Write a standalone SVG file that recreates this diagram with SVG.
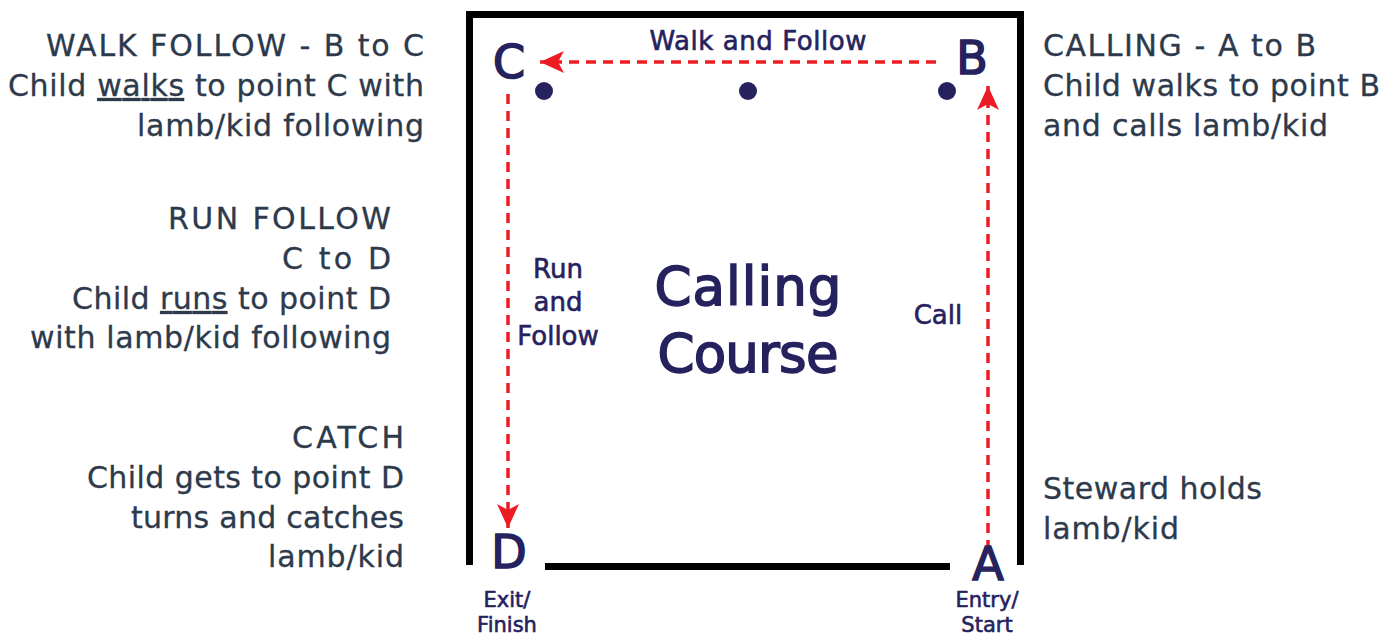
<svg xmlns="http://www.w3.org/2000/svg" width="1394" height="637" viewBox="0 0 1394 637">
<style>
.side{font-family:"DejaVu Sans","Liberation Sans",sans-serif;font-size:30px;fill:#2d3a4c;stroke:#2d3a4c;stroke-width:0.3px}
.lab{font-family:"DejaVu Sans","Liberation Sans",sans-serif;fill:#25225e;stroke:#25225e;stroke-width:0.6px}
.big{stroke-width:1.6px}
.wall{stroke:#000;stroke-width:7;fill:none}
.dash{stroke:#ed1c24;stroke-width:3.5;stroke-dasharray:10 7;fill:none}
.dot{fill:#25225e}
</style>
<defs>
<marker id="ah" viewBox="0 0 24 22" refX="24" refY="11" markerWidth="24" markerHeight="22" markerUnits="userSpaceOnUse" orient="auto">
<path d="M0,0 L24,11 L0,22 L6,11 Z" fill="#ed1c24"/>
</marker>
</defs>
<g id="course">
<path class="wall" d="M469.5,565 V14.5 H1020.5 V565"/>
<path class="wall" d="M545,566.5 H950"/>
</g>
<g id="points">
<circle class="dot" cx="544" cy="91" r="9"/>
<circle class="dot" cx="748" cy="91" r="9"/>
<circle class="dot" cx="947" cy="91" r="9"/>
</g>
<g id="connectors">
<path class="dash" d="M936,62 H540" marker-end="url(#ah)"/>
<path class="dash" d="M988,550 V86" marker-end="url(#ah)"/>
<path class="dash" d="M508,94 V528" marker-end="url(#ah)"/>
</g>
<g id="labels">
<text class="lab big" x="509" y="78" font-size="46" text-anchor="middle">C</text>
<text class="lab big" x="972" y="74" font-size="46" text-anchor="middle">B</text>
<text class="lab big" x="509" y="568" font-size="46" text-anchor="middle">D</text>
<text class="lab big" x="988" y="580" font-size="46" text-anchor="middle">A</text>
<text class="lab" x="758" y="50" font-size="26" text-anchor="middle" textLength="217">Walk and Follow</text>
<text class="lab" x="507" y="607" font-size="21" text-anchor="middle">Exit/</text>
<text class="lab" x="507" y="632" font-size="21" text-anchor="middle">Finish</text>
<text class="lab" x="987" y="607" font-size="21" text-anchor="middle">Entry/</text>
<text class="lab" x="987" y="632" font-size="21" text-anchor="middle">Start</text>
<text class="lab" x="558" y="278" font-size="26" text-anchor="middle">Run</text>
<text class="lab" x="558" y="311" font-size="26" text-anchor="middle">and</text>
<text class="lab" x="558" y="345" font-size="26" text-anchor="middle">Follow</text>
<text class="lab" x="938" y="324" font-size="26" text-anchor="middle">Call</text>
<text class="lab big" x="748" y="305" font-size="53" text-anchor="middle" textLength="187">Calling</text>
<text class="lab big" x="748" y="372" font-size="53" text-anchor="middle" textLength="181">Course</text>
</g>
<g id="walk-follow">
<text class="side" x="424" y="56" text-anchor="end" textLength="378">WALK FOLLOW - B to C</text>
<text class="side" x="424" y="96" text-anchor="end" textLength="416">Child <tspan text-decoration="underline">walks</tspan> to point C with</text>
<text class="side" x="424" y="136" text-anchor="end" textLength="287">lamb/kid following</text>
</g>
<g id="run-follow">
<text class="side" x="391" y="229" text-anchor="end" textLength="223">RUN FOLLOW</text>
<text class="side" x="391" y="269" text-anchor="end" textLength="109">C to D</text>
<text class="side" x="391" y="309" text-anchor="end" textLength="319">Child <tspan text-decoration="underline">runs</tspan> to point D</text>
<text class="side" x="391" y="348" text-anchor="end" textLength="361">with lamb/kid following</text>
</g>
<g id="catch">
<text class="side" x="404" y="448" text-anchor="end" textLength="112">CATCH</text>
<text class="side" x="404" y="488" text-anchor="end" textLength="317">Child gets to point D</text>
<text class="side" x="404" y="528" text-anchor="end" textLength="273">turns and catches</text>
<text class="side" x="404" y="567" text-anchor="end" textLength="136">lamb/kid</text>
</g>
<g id="calling">
<text class="side" x="1043" y="56" textLength="273">CALLING - A to B</text>
<text class="side" x="1043" y="96" textLength="337">Child walks to point B</text>
<text class="side" x="1043" y="136" textLength="285">and calls lamb/kid</text>
</g>
<g id="steward">
<text class="side" x="1043" y="499" textLength="219">Steward holds</text>
<text class="side" x="1043" y="539" textLength="136">lamb/kid</text>
</g>
</svg>
